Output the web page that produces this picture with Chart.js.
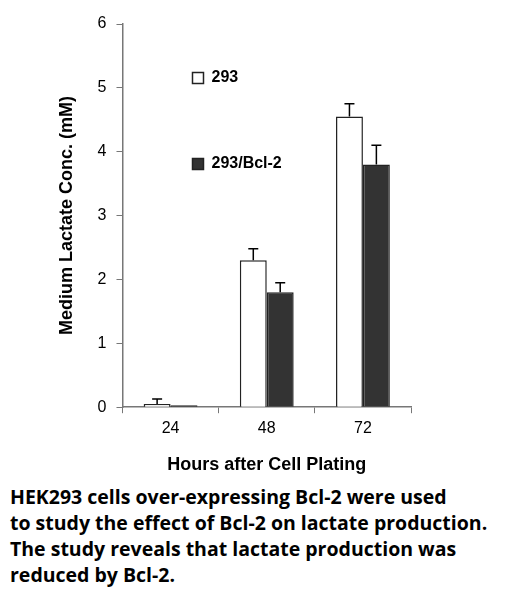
<!DOCTYPE html>
<html><head>
<script src="https://cdn.jsdelivr.net/npm/chart.js@4"></script>
<style>
body{margin:0;background:#fff;width:519px;height:616px;overflow:hidden}
#wrap{position:absolute;left:0;top:0;width:519px;height:476px}
#cap{position:absolute;left:10px;top:484px;font:bold 19.5px "Open Sans",Arial,sans-serif;line-height:26px;color:#000;width:515px;white-space:nowrap}
</style></head><body>
<div id="wrap"><canvas id="c"></canvas></div>
<div id="cap">HEK293 cells over-expressing Bcl-2 were used<br>to study the effect of Bcl-2 on lactate production.<br>The study reveals that lactate production was<br>reduced by Bcl-2.</div>
<script>
const hours = ["24", "48", "72"];
const wild = [0.05, 2.3, 4.55];
const wildErr = [0.08, 0.18, 0.2];
const bcl = [0.03, 1.8, 3.8];
const bclErr = [0.0, 0.15, 0.3];

const errorBars = {
    id: "errorBars",
    afterDatasetsDraw(chart) {
        const ctx = chart.ctx, y = chart.scales.y;
        [wildErr, bclErr].forEach((errs, di) => {
            chart.getDatasetMeta(di).data.forEach((bar, i) => {
                if (!errs[i]) return;
                const v = chart.data.datasets[di].data[i];
                const top = y.getPixelForValue(v + errs[i]);
                ctx.save();
                ctx.strokeStyle = "#000";
                ctx.lineWidth = 1.5;
                ctx.beginPath();
                ctx.moveTo(bar.x, bar.y); ctx.lineTo(bar.x, top);
                ctx.moveTo(bar.x - 5, top); ctx.lineTo(bar.x + 5, top);
                ctx.stroke();
                ctx.restore();
            });
        });
    }
};

new Chart(document.getElementById("c"), {
    type: "bar",
    data: {
        labels: hours,
        datasets: [
            { label: "293", data: wild, backgroundColor: "#fff", borderColor: "#222", borderWidth: 1.5, borderSkipped: "bottom" },
            { label: "293/Bcl-2", data: bcl, backgroundColor: "#333", borderColor: "#222", borderWidth: 1.5, borderSkipped: "bottom" }
        ]
    },
    options: {
        responsive: true,
        maintainAspectRatio: false,
        animation: false,
        layout: { padding: { left: 52, right: 108, top: 24, bottom: 0 } },
        datasets: { bar: { categoryPercentage: 0.56, barPercentage: 1 } },
        plugins: {
            tooltip: { enabled: false },
            legend: {
                position: "chartArea",
                align: "start",
                labels: { color: "#000", boxWidth: 11, boxHeight: 11, padding: 70,
                    font: { family: "Arial", size: 16, weight: "bold" } }
            }
        },
        scales: {
            x: {
                grid: { offset: true, drawOnChartArea: false, color: "#777", tickLength: 6 },
                border: { color: "#777", width: 1.5 },
                ticks: { color: "#000", padding: 6, font: { family: "Arial", size: 16 } },
                title: { display: true, text: "Hours after Cell Plating", color: "#000", padding: { top: 10, bottom: 0 },
                    font: { family: "Arial", size: 18, weight: "bold" } }
            },
            y: {
                min: 0, max: 6,
                ticks: { stepSize: 1, color: "#000", padding: 10, font: { family: "Arial", size: 16 } },
                grid: { drawOnChartArea: false, color: "#777", tickLength: 6 },
                border: { color: "#777", width: 1.5 },
                title: { display: true, text: "Medium Lactate Conc. (mM)", color: "#000", padding: { bottom: 10 },
                    font: { family: "Arial", size: 18, weight: "bold" } }
            }
        }
    },
    plugins: [errorBars]
});
</script>
</body></html>
